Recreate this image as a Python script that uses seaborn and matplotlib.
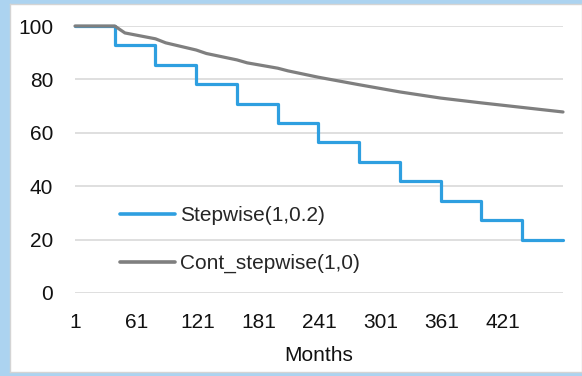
import matplotlib
matplotlib.use("Agg")
import matplotlib.pyplot as plt
import seaborn as sns
import pandas as pd

# Data
step_months = [1, 40, 80, 120, 160, 200, 240, 280, 320, 360, 400, 440, 480]
step_values = [100, 92.7, 85.5, 78.2, 70.9, 63.6, 56.4, 49.1, 41.8, 34.5, 27.3, 20.0, 20.0]

cont_months = [1, 40, 50, 80, 90, 120, 130, 160, 170, 200, 210, 240, 280, 320, 360, 400, 440, 480]
cont_values = [100, 100, 97.4, 95.2, 93.7, 91.0, 89.7, 87.3, 86.2, 84.2, 83.2, 80.8, 78.0, 75.3, 73.0, 71.2, 69.5, 67.8]

xticks = [1, 61, 121, 181, 241, 301, 361, 421]
yticks = [0, 20, 40, 60, 80, 100]

step_label = "Stepwise(1,0.2)"
cont_label = "Cont_stepwise(1,0)"

sns.set_theme(style="white")
plt.rcParams['font.family'] = ['Liberation Sans', 'DejaVu Sans']

FS = 15

fig = plt.figure(figsize=(5.82, 3.76), dpi=100)
fig.patch.set_facecolor('#acd3f0')

bg = fig.add_axes([10/582, 4/376, 1 - 10/582, 1 - 8/376], zorder=-10)
bg.set_xticks([]); bg.set_yticks([])
bg.set_facecolor('white')
for s in bg.spines.values():
    s.set_color('#d4d4d4')
    s.set_linewidth(1)

ax = fig.add_axes([75/582, 83/376, 488/582, 267/376], zorder=1)
ax.set_facecolor('none')

df_step = pd.DataFrame({"Months": step_months, "Value": step_values})
df_cont = pd.DataFrame({"Months": cont_months, "Value": cont_values})

sns.lineplot(data=df_step, x="Months", y="Value", ax=ax, color='#2e9fe0', linewidth=2.3,
             drawstyle='steps-post', label=step_label, clip_on=False, zorder=3)
sns.lineplot(data=df_cont, x="Months", y="Value", ax=ax, color='#7f7f7f', linewidth=2.3,
             label=cont_label, clip_on=False, zorder=3)

ax.set_xlim(1, 480)
ax.set_ylim(0, 100)
ax.set_xticks(xticks)
ax.set_yticks(yticks)
ax.set_xticklabels([str(t) for t in xticks])
ax.set_yticklabels([str(t) for t in yticks])
ax.tick_params(axis='both', length=0, labelsize=FS, colors='#111111')
ax.tick_params(axis='y', pad=15.8)
ax.tick_params(axis='x', pad=14.3)
ax.yaxis.grid(True, color='#d9d9d9', linewidth=1.2)
ax.xaxis.grid(False)
for s in ax.spines.values():
    s.set_visible(False)
ax.set_ylabel("")
ax.set_xlabel("Months", fontsize=FS, color='#111111', labelpad=10)

leg = ax.legend(loc='center left', bbox_to_anchor=(0.092, 0.200), frameon=False,
                fontsize=FS, handlelength=2.65, handletextpad=0.25, labelspacing=1.4,
                borderpad=0, borderaxespad=0)
for line in leg.get_lines():
    line.set_linewidth(2.6)

fig.savefig("out.png", dpi=100, facecolor=fig.get_facecolor())
